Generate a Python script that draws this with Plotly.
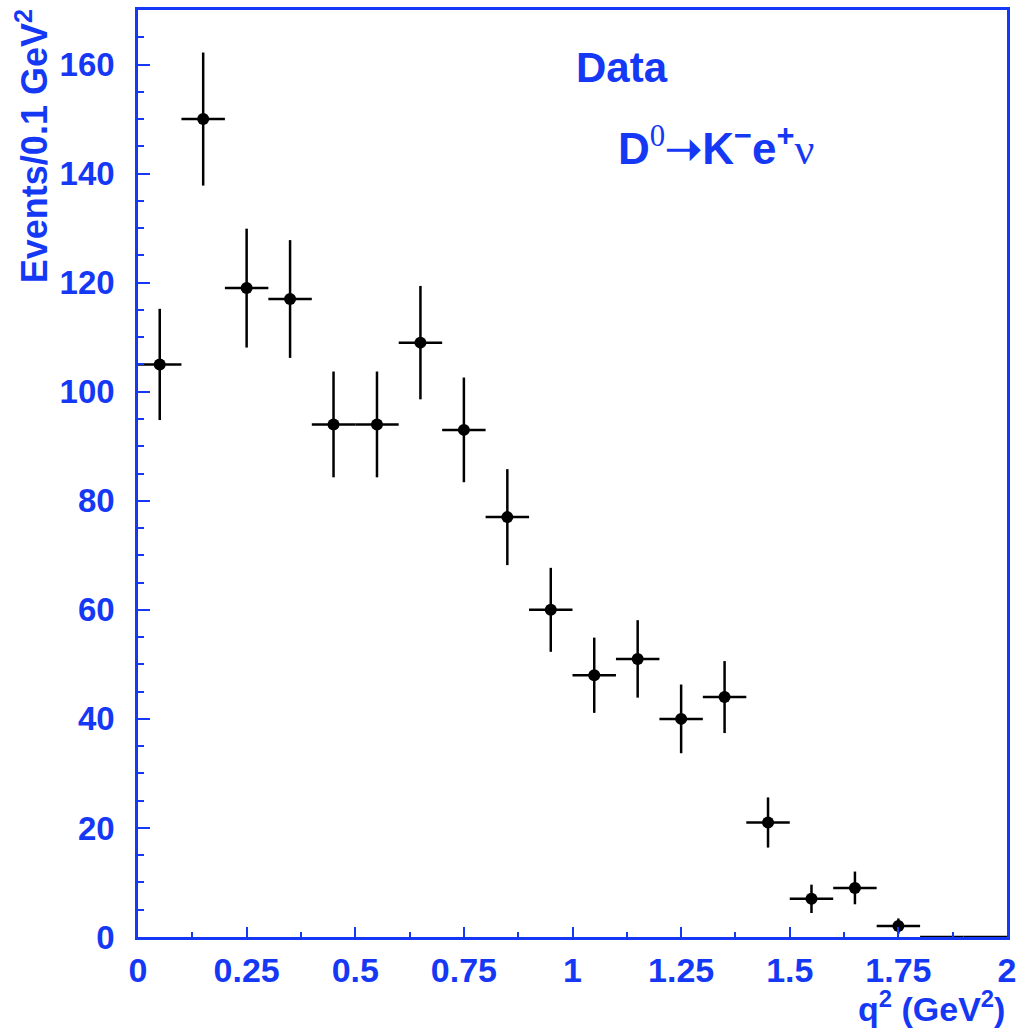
import plotly.graph_objects as go

# q^2 bin centres (GeV^2), event counts and their errors
q2_centers = [0.05, 0.15, 0.25, 0.35, 0.45, 0.55, 0.65, 0.75, 0.85, 0.95,
              1.05, 1.15, 1.25, 1.35, 1.45, 1.55, 1.65, 1.75]
events = [105, 150, 119, 117, 94, 94, 109, 93, 77, 60,
          48, 51, 40, 44, 21, 7, 9, 2]
event_err = [10.2, 12.2, 10.9, 10.8, 9.7, 9.7, 10.4, 9.6, 8.8, 7.7,
             6.9, 7.1, 6.3, 6.6, 4.6, 2.6, 3.0, 1.4]
bin_half_width = [0.05] * len(q2_centers)

# empty bins at the end of the range
empty_centers = [1.85, 1.95]
empty_events = [0, 0]
empty_half_width = [0.05, 0.05]

x_ticks = [0, 0.25, 0.5, 0.75, 1, 1.25, 1.5, 1.75, 2]
x_tick_labels = ["0", "0.25", "0.5", "0.75", "1", "1.25", "1.5", "1.75", "2"]
y_ticks = [0, 20, 40, 60, 80, 100, 120, 140, 160]

BLUE = "#1538F5"
FONT = "Liberation Sans, Arial, sans-serif"
SERIF = "'Liberation Serif', 'DejaVu Serif', serif"

fig = go.Figure()
fig.add_trace(go.Scatter(
    x=empty_centers, y=empty_events, mode="markers",
    marker=dict(size=0.1, color="black"),
    error_x=dict(type="data", array=empty_half_width, color="black", thickness=2.5, width=0),
    showlegend=False, hoverinfo="skip"))
fig.add_trace(go.Scatter(
    x=q2_centers, y=events, mode="markers",
    marker=dict(size=12, color="black"),
    error_x=dict(type="data", array=bin_half_width, color="black", thickness=2.5, width=0),
    error_y=dict(type="data", array=event_err, color="black", thickness=2.5, width=0),
    showlegend=False, cliponaxis=False))

fig.update_layout(
    width=1016, height=1030,
    margin=dict(l=138, r=9, t=10, b=93, autoexpand=False),
    plot_bgcolor="white", paper_bgcolor="white",
    font=dict(family=FONT, color=BLUE),
    xaxis=dict(range=[0, 2], showgrid=False, zeroline=False, automargin=False,
               showline=True, linecolor=BLUE, linewidth=2.5, mirror=True,
               ticks="inside", ticklen=10, tickwidth=2, tickcolor=BLUE,
               tickvals=x_ticks, ticktext=x_tick_labels,
               tickfont=dict(family=FONT, size=34, color=BLUE, weight="bold"),
               ticklabelstandoff=1, ticklabeloverflow="allow",
               minor=dict(dtick=0.125, ticks="inside", ticklen=5, tickwidth=2, tickcolor=BLUE, showgrid=False)),
    yaxis=dict(range=[0, 170], showgrid=False, zeroline=False, automargin=False,
               showline=True, linecolor=BLUE, linewidth=2.5, mirror=True,
               ticks="inside", ticklen=12, tickwidth=2, tickcolor=BLUE,
               tickvals=y_ticks,
               tickfont=dict(family=FONT, size=33, color=BLUE, weight="bold"),
               ticklabelstandoff=14, ticklabeloverflow="allow",
               minor=dict(dtick=5, ticks="inside", ticklen=6, tickwidth=2, tickcolor=BLUE, showgrid=False)),
)

fig.add_annotation(xref="paper", yref="paper", x=-0.122, y=1.003, xanchor="center", yanchor="top",
                   textangle=-90, showarrow=False,
                   text="<b>Events/0.1 GeV<sup>2</sup></b>",
                   font=dict(family=FONT, size=36, color=BLUE))
fig.add_annotation(xref="paper", yref="paper", x=1.0, y=-0.1, xanchor="right", yanchor="bottom",
                   showarrow=False,
                   text="<b>q<sup>2</sup> (GeV<sup>2</sup>)</b>",
                   font=dict(family=FONT, size=34, color=BLUE))
fig.add_annotation(xref="x", yref="y", x=1.114, y=159.4, xanchor="center", yanchor="middle",
                   showarrow=False, text="<b>Data</b>",
                   font=dict(family=FONT, size=42, color=BLUE))
fig.add_annotation(xref="x", yref="y", x=1.33, y=145, xanchor="center", yanchor="middle",
                   showarrow=False,
                   text="<b>D</b><sup><span style=\"font-family:" + SERIF + ";font-weight:normal\">0</span></sup>"
                        "<b>➝K</b><sup><b>−</b></sup><b>e</b><sup><b>+</b></sup>"
                        "<span style=\"font-family:" + SERIF + "\">ν</span>",
                   font=dict(family=FONT, size=44, color=BLUE))

fig.write_html("out.html")
